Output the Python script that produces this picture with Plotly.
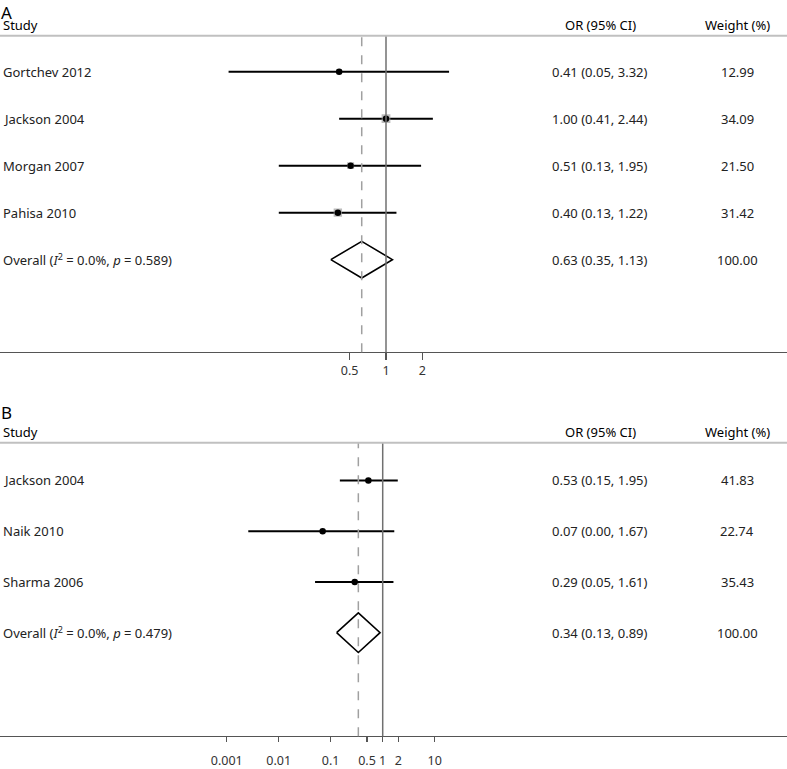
import plotly.graph_objects as go

W, H = 787, 769
FONT = "Noto Sans"

# ---- data panel A ----
a_studies = ["Gortchev 2012", "Jackson 2004", "Morgan 2007", "Pahisa 2010"]
a_or = [0.41, 1.00, 0.51, 0.40]
a_lo = [0.05, 0.41, 0.13, 0.13]
a_hi = [3.32, 2.44, 1.95, 1.22]
a_w = [12.99, 34.09, 21.50, 31.42]
a_overall = (0.63, 0.35, 1.13)
a_overall_label = "Overall (<i>I</i><sup>2</sup> = 0.0%, <i>p</i> = 0.589)"
a_ticks = [0.5, 1, 2]
a_ticklabels = ["0.5", "1", "2"]

# ---- data panel B ----
b_studies = ["Jackson 2004", "Naik 2010", "Sharma 2006"]
b_or = [0.53, 0.07, 0.29]
b_lo = [0.15, 0.0026, 0.05]
b_hi = [1.95, 1.67, 1.61]
b_w = [41.83, 22.74, 35.43]
b_overall = (0.34, 0.13, 0.89)
b_overall_label = "Overall (<i>I</i><sup>2</sup> = 0.0%, <i>p</i> = 0.479)"
b_lo_txt = ["0.15", "0.00", "0.05"]
b_ticks = [0.001, 0.01, 0.1, 0.5, 1, 2, 10]
b_ticklabels = ["0.001", "0.01", "0.1", "0.5", "1", "2", "10"]


def py(px):
    return 1 - px / H


fig = go.Figure()
annotations = []
shapes = []


def panel(letter, studies, ors, los, his, ws, overall, overall_label, lo_txt,
          xa, ya, top_px, bot_px, letter_px, head_px, boxes):
    n = len(studies)
    xs, ys = [], []
    for i in range(n):
        xs += [los[i], his[i], None]
        ys += [i, i, None]
    fig.add_trace(go.Scatter(x=xs, y=ys, mode="lines", line=dict(color="black", width=2),
                             xaxis=xa, yaxis=ya, showlegend=False, hoverinfo="skip"))
    if boxes:
        fig.add_trace(go.Scatter(x=ors, y=list(range(n)), mode="markers",
                                 marker=dict(symbol="square", color="#a0a0a0",
                                             size=[1.5 * w ** 0.5 for w in ws], line=dict(width=0)),
                                 xaxis=xa, yaxis=ya, showlegend=False, hoverinfo="skip"))
    fig.add_trace(go.Scatter(x=ors, y=list(range(n)), mode="markers",
                             marker=dict(color="black", size=6.5),
                             xaxis=xa, yaxis=ya, showlegend=False, hoverinfo="skip"))
    est, lo, hi = overall
    h = 0.39
    fig.add_trace(go.Scatter(x=[lo, est, hi, est, lo], y=[n, n - h, n, n + h, n], mode="lines",
                             line=dict(color="black", width=1.6),
                             xaxis=xa, yaxis=ya, showlegend=False, hoverinfo="skip"))
    xref = xa
    yref = ya
    shapes.append(dict(type="line", xref=xref, yref="paper", x0=1, x1=1,
                       y0=py(bot_px), y1=py(top_px), line=dict(color="#707070", width=1.5)))
    shapes.append(dict(type="line", xref=xref, yref="paper", x0=est, x1=est,
                       y0=py(bot_px), y1=py(top_px), line=dict(color="#a0a0a0", width=1.5, dash="dash")))
    shapes.append(dict(type="line", xref="paper", yref="paper", x0=0, x1=1,
                       y0=py(top_px), y1=py(top_px), line=dict(color="#c0c0c0", width=2)))
    annotations.append(dict(text=letter, xref="paper", yref="paper", x=0.0, y=py(letter_px),
                            xanchor="left", yanchor="top", showarrow=False, borderpad=0,
                            font=dict(family=FONT, size=17, color="black")))
    for txt, xp, anc in [("Study", 1, "left"), ("OR (95% CI)", 600, "center"), ("Weight (%)", 737, "center")]:
        annotations.append(dict(text=txt, xref="paper", yref="paper", x=xp / W, y=py(head_px),
                                xanchor=anc, yanchor="middle", showarrow=False,
                                font=dict(family=FONT, size=13, color="black")))
    labels = studies + [overall_label]
    or_txt = []
    for i in range(n):
        l = lo_txt[i] if lo_txt else f"{los[i]:.2f}"
        or_txt.append(f"{ors[i]:.2f} ({l}, {his[i]:.2f})")
    or_txt.append(f"{est:.2f} ({lo:.2f}, {hi:.2f})")
    w_txt = [f"{w:.2f}" for w in ws] + ["100.00"]
    for i in range(n + 1):
        annotations.append(dict(text=labels[i], xref="paper", yref=yref, x=1 / W, y=i,
                                xanchor="left", yanchor="middle", showarrow=False,
                                font=dict(family=FONT, size=13, color="#222")))
        annotations.append(dict(text=or_txt[i], xref="paper", yref=yref, x=600 / W, y=i,
                                xanchor="center", yanchor="middle", showarrow=False,
                                font=dict(family=FONT, size=13, color="#222")))
        annotations.append(dict(text=w_txt[i], xref="paper", yref=yref, x=737 / W, y=i,
                                xanchor="center", yanchor="middle", showarrow=False,
                                font=dict(family=FONT, size=13, color="#222")))


panel("A", a_studies, a_or, a_lo, a_hi, a_w, a_overall, a_overall_label, None,
      "x", "y", 36, 354, 0, 25, True)
panel("B", b_studies, b_or, b_lo, b_hi, b_w, b_overall, b_overall_label, b_lo_txt,
      "x2", "y2", 445, 740, 402, 434, False)

axis_common = dict(type="log", showgrid=False, zeroline=False, showline=True,
                   linecolor="#555", linewidth=1.2, ticks="outside", ticklen=7,
                   tickcolor="#555", tickwidth=1.2,
                   tickfont=dict(family=FONT, size=12.5, color="#333"), fixedrange=True)

fig.update_layout(
    width=W, height=H, margin=dict(l=0, r=0, t=0, b=0),
    paper_bgcolor="white", plot_bgcolor="white",
    xaxis=dict(axis_common, domain=[0, 1], range=[-386 / 121, (787 - 386) / 121],
               tickvals=a_ticks, ticktext=a_ticklabels, anchor="y"),
    yaxis=dict(domain=[py(354), py(36)], range=[(354 - 36) / 47.25 - 0.762, -0.762],
               visible=False, fixedrange=True),
    xaxis2=dict(axis_common, domain=[0, 1], range=[-382.7 / 52, (787 - 382.7) / 52],
                tickvals=b_ticks, ticktext=b_ticklabels, anchor="y2", ticklen=5,
                ticklabelstandoff=8),
    yaxis2=dict(domain=[py(740), py(445)], range=[(740 - 445) / 51 - 0.745, -0.745],
                visible=False, fixedrange=True),
    annotations=annotations, shapes=shapes,
)

fig.write_html("out.html", config={"displayModeBar": False, "staticPlot": True},
               post_script="document.body.style.margin='0';document.body.style.overflow='hidden';")
